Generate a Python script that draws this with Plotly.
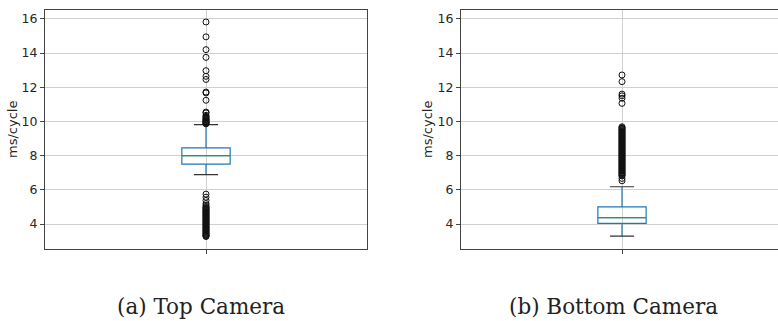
import plotly.graph_objects as go

# Box statistics (ms/cycle) for each camera
panels = ["Top Camera", "Bottom Camera"]
captions = ["(a) Top Camera", "(b) Bottom Camera"]
q1 = [7.51, 4.04]
median = [8.00, 4.37]
q3 = [8.45, 5.00]
lower_whisker = [6.89, 3.29]
upper_whisker = [9.81, 6.18]

# Outlying cycle times
top_outliers = [
    15.82, 14.95, 14.20, 13.75, 12.97, 12.64, 12.46, 11.72, 11.67, 11.24,
    10.55, 10.50, 10.36, 10.30, 10.24, 10.19, 10.14, 10.10, 10.06, 10.02,
    9.98, 9.95, 9.92, 9.89, 9.86,
    5.75, 5.57, 5.38, 5.20, 5.10, 5.01, 4.96, 4.92, 4.88, 4.83, 4.79, 4.74,
    4.70, 4.66, 4.61, 4.57, 4.52, 4.48, 4.44, 4.39, 4.35, 4.30, 4.26, 4.22,
    4.17, 4.13, 4.08, 4.04, 4.00, 3.95, 3.91, 3.86, 3.82, 3.78, 3.73, 3.69,
    3.64, 3.60, 3.56, 3.51, 3.47, 3.42, 3.38, 3.34, 3.30, 3.27,
]
bottom_outliers = [
    12.72, 12.33, 11.60, 11.50, 11.36, 11.06,
    9.69, 9.64, 9.60, 9.55, 9.51, 9.46, 9.42, 9.37, 9.33, 9.28, 9.24, 9.19,
    9.15, 9.10, 9.06, 9.01, 8.97, 8.92, 8.88, 8.83, 8.79, 8.74, 8.70, 8.65,
    8.61, 8.56, 8.52, 8.47, 8.43, 8.38, 8.34, 8.29, 8.25, 8.20, 8.16, 8.11,
    8.07, 8.02, 7.98, 7.93, 7.89, 7.84, 7.80, 7.75, 7.71, 7.66, 7.62, 7.57,
    7.53, 7.48, 7.44, 7.39, 7.35, 7.30, 7.26, 7.21, 7.17, 7.12, 7.08, 7.03,
    6.99, 6.94, 6.90, 6.85, 6.81, 6.67, 6.53,
]
outliers = [top_outliers, bottom_outliers]

y_ticks = [4, 6, 8, 10, 12, 14, 16]
y_range = [2.54, 16.55]

BLUE = "#1f77b4"
GREEN = "#2ca02c"
CAP = "#333333"
POS = 1.0
BOX_W = 0.15
CAP_W = BOX_W / 2

W, H = 778, 321
x_domains = [[45 / W, 367 / W], [461 / W, 1.0]]
x_ranges = [[0.5, 1.5], [0.5, 0.5 + 317 / 322]]
y_domain = [1 - 249 / H, 1 - 9.5 / H]

fig = go.Figure()

for i in range(2):
    xa = "x" if i == 0 else "x2"
    ya = "y" if i == 0 else "y2"
    fig.add_trace(go.Box(
        x=[POS], q1=[q1[i]], median=[median[i]], q3=[q3[i]],
        lowerfence=[lower_whisker[i]], upperfence=[upper_whisker[i]],
        width=BOX_W, whiskerwidth=0, boxpoints=False,
        line=dict(color=BLUE, width=1.2), fillcolor="rgba(0,0,0,0)",
        xaxis=xa, yaxis=ya, showlegend=False, name=panels[i],
    ))
    # median bar
    fig.add_trace(go.Scatter(
        x=[POS - BOX_W / 2, POS + BOX_W / 2], y=[median[i], median[i]],
        mode="lines", line=dict(color=GREEN, width=1.2),
        xaxis=xa, yaxis=ya, showlegend=False, hoverinfo="skip",
    ))
    # whisker caps
    for v in (lower_whisker[i], upper_whisker[i]):
        fig.add_trace(go.Scatter(
            x=[POS - CAP_W / 2, POS + CAP_W / 2], y=[v, v],
            mode="lines", line=dict(color=CAP, width=1.2),
            xaxis=xa, yaxis=ya, showlegend=False, hoverinfo="skip",
        ))
    # fliers
    fig.add_trace(go.Scatter(
        x=[POS] * len(outliers[i]), y=outliers[i], mode="markers",
        marker=dict(symbol="circle-open", size=6, color="#111111",
                    line=dict(width=1)),
        xaxis=xa, yaxis=ya, showlegend=False,
    ))

axis_common = dict(showline=True, linecolor="#444444", linewidth=1,
                   ticks="outside", tickcolor="#444444", ticklen=4,
                   showgrid=True, gridcolor="#d0d0d0", gridwidth=1,
                   zeroline=False, tickfont=dict(family="DejaVu Sans",
                                                 size=12.5, color="#262626"))

fig.update_layout(
    width=W, height=H, margin=dict(l=0, r=0, t=0, b=0),
    paper_bgcolor="white", plot_bgcolor="white",
    xaxis=dict(domain=x_domains[0], range=x_ranges[0], tickvals=[POS],
               ticktext=[""], mirror=True, anchor="y", **axis_common),
    yaxis=dict(domain=y_domain, range=y_range, tickvals=y_ticks,
               mirror=True, anchor="x", **axis_common),
    xaxis2=dict(domain=x_domains[1], range=x_ranges[1], tickvals=[POS],
                ticktext=[""], mirror=True, anchor="y2", **axis_common),
    yaxis2=dict(domain=y_domain, range=y_range, tickvals=y_ticks,
                mirror=False, anchor="x2", **axis_common),
)

# y-axis titles
for xp in (12 / W, 427 / W):
    fig.add_annotation(text="ms/cycle", x=xp, y=1 - 130 / H, xref="paper",
                       yref="paper", textangle=-90, showarrow=False,
                       xanchor="center", yanchor="middle",
                       font=dict(family="DejaVu Sans", size=13,
                                 color="#262626"))

# panel captions
for cx, txt in zip((201 / W, 613 / W), captions):
    fig.add_annotation(text=txt, x=cx, y=1 - 306 / H, xref="paper",
                       yref="paper", showarrow=False, xanchor="center",
                       yanchor="middle",
                       font=dict(family="DejaVu Serif", size=21.5,
                                 color="#222222"))

fig.write_html("out.html")
